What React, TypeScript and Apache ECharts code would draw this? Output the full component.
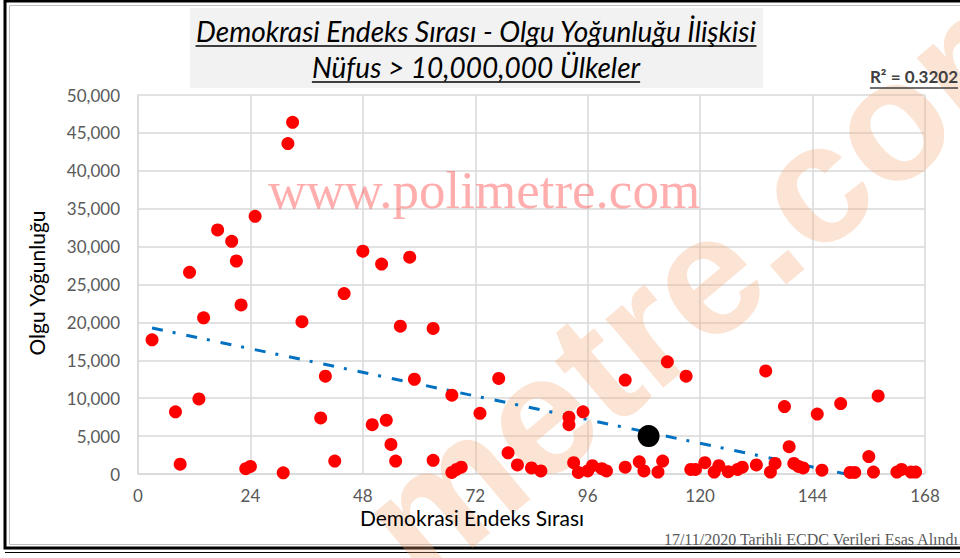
import React, { useEffect, useRef } from "react";
import * as echarts from "echarts";

// ---- data ----
const RANK = [
  3, 8, 9, 11, 13, 14, 17, 20, 21, 22, 23, 24, 25, 31, 32, 33, 35, 39, 40, 42,
  44, 48, 50, 52, 53, 54, 55, 56, 58, 59, 63, 63, 67, 67, 68, 69, 73, 77, 79, 81,
  84, 86, 92, 92, 93, 94, 95, 96, 97, 99, 100, 104, 104, 107, 108, 111, 112, 113, 117, 118,
  119, 121, 123, 124, 126, 128, 129, 132, 134, 135, 136, 138, 139, 140, 141, 142, 145, 146, 150, 152,
  153, 156, 157, 158, 162, 163, 165, 166,
];
const DENSITY = [
  17700, 8200, 1300, 26600, 9900, 20600, 32200, 30700, 28100, 22300, 700, 1000, 34000, 150, 43600, 46400, 20100, 7400, 12900, 1700,
  23800, 29400, 6500, 27700, 7100, 3900, 1700, 19500, 28600, 12500, 19200, 1800, 10400, 200, 600, 900, 8000, 12600, 2800, 1200,
  800, 400, 7500, 6500, 1500, 200, 8200, 400, 1100, 700, 400, 12400, 900, 1600, 400, 250, 1700, 14800, 12900, 600,
  600, 1500, 250, 1100, 300, 600, 900, 1200, 13600, 250, 1400, 8900, 3600, 1400, 1000, 800, 7900, 500, 9300, 200,
  200, 2300, 250, 10300, 250, 600, 250, 250,
];
const HIGHLIGHT_RANK = [109];
const HIGHLIGHT_DENSITY = [5000];

const X_MIN = 0;
const X_MAX = 168;
const X_STEP = 24;
const Y_MIN = 0;
const Y_MAX = 50000;
const Y_STEP = 5000;

const TREND_INTERCEPT = 19650;
const TREND_SLOPE = -130;
const R2_LABEL = "R² = 0.3202";

const TITLE_LINES = ["Demokrasi Endeks Sırası - Olgu Yoğunluğu İlişkisi", "Nüfus > 10,000,000 Ülkeler"];
const X_NAME = "Demokrasi Endeks Sırası";
const Y_NAME = "Olgu Yoğunluğu";
const WATERMARK_TEXT = "www.polimetre.com";
const WATERMARK_BIG = "metre.com";
const SOURCE_NOTE = "17/11/2020 Tarihli ECDC Verileri Esas Alındı";

const SANS = "Lato, 'Open Sans', sans-serif";
const SERIF = "'Liberation Serif', 'DejaVu Serif', serif";

function measure(text: string, font: string): number {
  const ctx = document.createElement("canvas").getContext("2d");
  if (!ctx) return text.length * 10;
  ctx.font = font;
  return ctx.measureText(text).width;
}

export default function App() {
  const ref = useRef<HTMLDivElement>(null);

  useEffect(() => {
    if (!ref.current) return;
    const chart = echarts.init(ref.current, undefined, { renderer: "svg" });

    const points = RANK.map((x, i) => [x, DENSITY[i]]);
    const highlight = HIGHLIGHT_RANK.map((x, i) => [x, HIGHLIGHT_DENSITY[i]]);
    const xStart = Math.min(...RANK);
    const xEnd = Math.min(Math.max(...RANK), -TREND_INTERCEPT / TREND_SLOPE);
    const trend = [
      [xStart, TREND_INTERCEPT + TREND_SLOPE * xStart],
      [xEnd, TREND_INTERCEPT + TREND_SLOPE * xEnd],
    ];

    const titleFont = `italic 28px Lato`;
    const t1w = measure(TITLE_LINES[0], titleFont);
    const t2w = measure(TITLE_LINES[1], titleFont);
    const r2Font = `bold 17px Lato`;
    const r2w = measure(R2_LABEL, r2Font);
    const titleCx = 476;

    const fmt = (v: number) => v.toLocaleString("en-US");

    chart.setOption({
      animation: false,
      backgroundColor: "#ffffff",
      grid: {
        left: 138,
        top: 95,
        right: 35,
        bottom: 84,
        containLabel: false,
        outerBoundsMode: "none",
      },
      xAxis: {
        type: "value",
        min: X_MIN,
        max: X_MAX,
        interval: X_STEP,
        axisLine: { show: true, lineStyle: { color: "#D9D9D9", width: 1.5 } },
        axisTick: { show: false },
        splitLine: { show: true, lineStyle: { color: "#D9D9D9", width: 1.5 } },
        axisLabel: { color: "#595959", fontSize: 17, fontFamily: SANS, margin: 13 },
      },
      yAxis: {
        type: "value",
        min: Y_MIN,
        max: Y_MAX,
        interval: Y_STEP,
        axisLine: { show: true, lineStyle: { color: "#D9D9D9", width: 1.5 } },
        axisTick: { show: false },
        splitLine: { show: true, lineStyle: { color: "#D9D9D9", width: 1.5 } },
        axisLabel: { color: "#595959", fontSize: 17, fontFamily: SANS, margin: 18, formatter: fmt },
      },
      series: [
        {
          type: "line",
          data: trend,
          symbol: "none",
          z: 3,
          lineStyle: { color: "#0070C0", width: 3, type: [11, 10, 3, 11], cap: "butt" },
          silent: true,
        },
        {
          type: "scatter",
          data: points,
          symbol: "circle",
          symbolSize: 13,
          z: 4,
          itemStyle: { color: "#FF0000", opacity: 1 },
        },
        {
          type: "scatter",
          data: highlight,
          symbol: "circle",
          symbolSize: 22,
          z: 5,
          itemStyle: { color: "#000000", opacity: 1 },
        },
      ],
      graphic: [
        // outer frame
        { type: "rect", z: 0, shape: { x: 5, y: 1, width: 1000, height: 547 }, style: { fill: "none", stroke: "#000", lineWidth: 3 } },
        { type: "line", z: 0, shape: { x1: 5, y1: 552.5, x2: 960, y2: 552.5 }, style: { stroke: "#000", lineWidth: 1 } },
        { type: "rect", z: 0, shape: { x: 9.5, y: 5.5, width: 1000, height: 539 }, style: { fill: "none", stroke: "#BFBFBF", lineWidth: 1 } },
        // big diagonal watermark
        {
          type: "text",
          z: 1,
          x: 714,
          y: 268,
          rotation: (40 * Math.PI) / 180,
          style: {
            text: WATERMARK_BIG,
            font: `bold 170px 'Liberation Sans', Arial, sans-serif`,
            fill: "rgba(244,164,116,0.3)",
            align: "center",
            verticalAlign: "middle",
          },
        },
        // polimetre url watermark
        {
          type: "text",
          z: 1,
          x: 484,
          y: 190,
          style: {
            text: WATERMARK_TEXT,
            font: `53px ${SERIF}`,
            fill: "rgba(255,40,40,0.38)",
            align: "center",
            verticalAlign: "middle",
          },
        },
        // title box
        { type: "rect", z: 0, shape: { x: 190, y: 8, width: 573, height: 80 }, style: { fill: "#F2F2F2" } },
        {
          type: "text",
          z: 2,
          x: titleCx,
          y: 31,
          style: { text: TITLE_LINES[0], font: titleFont, fill: "#000", align: "center", verticalAlign: "middle" },
        },
        { type: "line", z: 2, shape: { x1: titleCx - t1w / 2, y1: 46, x2: titleCx + t1w / 2, y2: 46 }, style: { stroke: "#000", lineWidth: 1.4 } },
        {
          type: "text",
          z: 2,
          x: titleCx,
          y: 67,
          style: { text: TITLE_LINES[1], font: titleFont, fill: "#000", align: "center", verticalAlign: "middle" },
        },
        { type: "line", z: 2, shape: { x1: titleCx - t2w / 2, y1: 82, x2: titleCx + t2w / 2, y2: 82 }, style: { stroke: "#000", lineWidth: 1.4 } },
        // R2 label
        {
          type: "text",
          z: 2,
          x: 958,
          y: 76,
          style: { text: R2_LABEL, font: r2Font, fill: "#404040", align: "right", verticalAlign: "middle" },
        },
        { type: "line", z: 2, shape: { x1: 958 - r2w, y1: 88, x2: 958, y2: 88 }, style: { stroke: "#404040", lineWidth: 1.3 } },
        // axis names
        {
          type: "text",
          z: 2,
          x: 36,
          y: 283,
          rotation: Math.PI / 2,
          style: { text: Y_NAME, font: `21px ${SANS}`, fill: "#000", align: "center", verticalAlign: "middle" },
        },
        {
          type: "text",
          z: 2,
          x: 472,
          y: 517,
          style: { text: X_NAME, font: `21px ${SANS}`, fill: "#000", align: "center", verticalAlign: "middle" },
        },
        // source note
        {
          type: "text",
          z: 2,
          x: 958,
          y: 539,
          style: { text: SOURCE_NOTE, font: `16px ${SERIF}`, fill: "#595959", align: "right", verticalAlign: "middle" },
        },
      ],
    });

    return () => chart.dispose();
  }, []);

  return (
    <div
      ref={ref}
      style={{ position: "fixed", left: 0, top: 0, width: 960, height: 558, background: "#fff" }}
    />
  );
}
